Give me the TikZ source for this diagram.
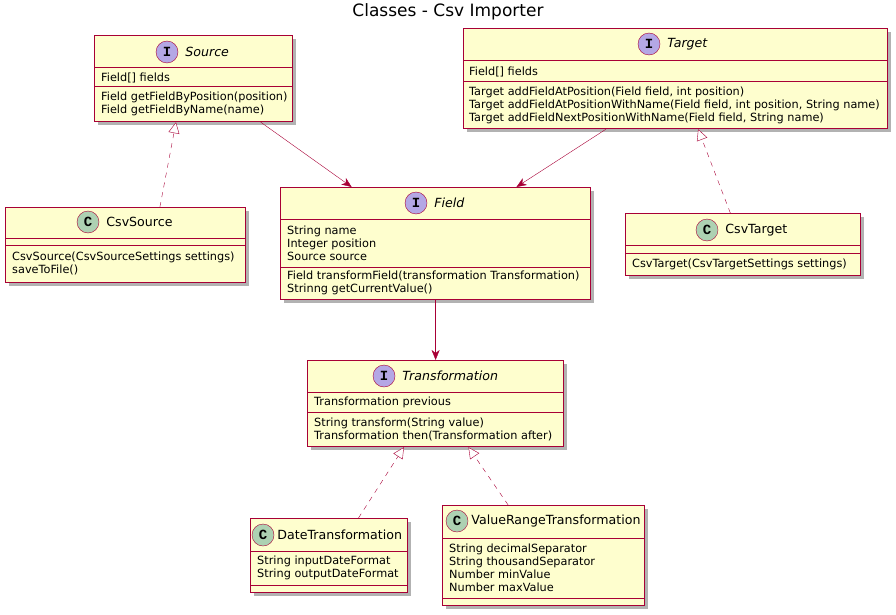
\documentclass[tikz,border=0pt]{standalone}
\usepackage{fontspec}
\setmainfont{DejaVu Sans}
\newfontfamily\badgefont{Liberation Mono}
\usetikzlibrary{arrows.meta,positioning,shadows}
\definecolor{umlfill}{HTML}{FEFECE}
\definecolor{umlred}{HTML}{A80036}
\definecolor{ifill}{HTML}{B4A7E5}
\definecolor{cfill}{HTML}{ADD1B2}
\tikzset{
  classbox/.style={draw=umlred, line width=1.2pt, fill=umlfill, anchor=north west, inner sep=0pt,
    drop shadow={shadow xshift=3pt, shadow yshift=-3pt, fill=black, opacity=0.3}},
  sepline/.style={draw=umlred, line width=1pt},
  ibadge/.style={circle, draw=umlred, fill=ifill, minimum size=22pt, inner sep=0pt,
    font=\badgefont\bfseries\fontsize{14}{14}\selectfont},
  cbadge/.style={ibadge, fill=cfill},
  iname/.style={anchor=west, inner sep=0pt, font=\fontsize{12.6}{15}\selectfont\itshape},
  cname/.style={anchor=west, inner sep=0pt, font=\fontsize{12.6}{15}\selectfont},
  members/.style={anchor=west, inner sep=0pt, align=left, font=\fontsize{11.3}{13}\selectfont},
  assoc/.style={draw=umlred, -{Stealth[length=10pt, width=8pt, inset=3pt]}},
  realize/.style={draw=umlred, dash pattern=on 5pt off 5pt,
    -{Triangle[open, length=11pt, width=11pt, fill=white]}}
}
\begin{document}
\begin{tikzpicture}[x=1pt, y=-1pt]
\useasboundingbox (0,0) rectangle (896,615);
\node[font=\fontsize{17}{19}\selectfont] (title) at (448,12) {Classes - Csv Importer};

% Source
\node[classbox, minimum width=198pt, minimum height=86pt] (source) at (94,35) {};
\draw[sepline] (94,68) -- (292,68);
\draw[sepline] (94,87) -- (292,87);
\node[ibadge] (sourcebadge) at (167,52) {I};
\node[iname, right=7pt of sourcebadge] (sourcename) {Source};
\node[members] (sourcefields) at (101,77.5) {Field[] fields};
\node[members] (sourcemethods) at (101,104) {Field getFieldByPosition(position)\\Field getFieldByName(name)};

% CsvSource
\node[classbox, minimum width=240pt, minimum height=75pt] (csvsource) at (5,207) {};
\draw[sepline] (5,238) -- (245,238);
\draw[sepline] (5,245) -- (245,245);
\node[cbadge] (csvsourcebadge) at (88,222) {C};
\node[cname, right=7pt of csvsourcebadge] (csvsourcename) {CsvSource};
\node[members] (csvsourcemethods) at (12,263.5) {CsvSource(CsvSourceSettings settings)\\saveToFile()};

% Field
\node[classbox, minimum width=310pt, minimum height=112pt] (field) at (280,187) {};
\draw[sepline] (280,219) -- (590,219);
\draw[sepline] (280,267) -- (590,267);
\node[ibadge] (fieldbadge) at (416,203) {I};
\node[iname, right=7pt of fieldbadge] (fieldname) {Field};
\node[members] (fieldfields) at (287,243) {String name\\Integer position\\Source source};
\node[members] (fieldmethods) at (287,283) {Field transformField(transformation Transformation)\\Strinng getCurrentValue()};

% Target
\node[classbox, minimum width=424pt, minimum height=100pt] (target) at (463,28) {};
\draw[sepline] (463,61) -- (887,61);
\draw[sepline] (463,82) -- (887,82);
\node[ibadge] (targetbadge) at (649,44) {I};
\node[iname, right=7pt of targetbadge] (targetname) {Target};
\node[members] (targetfields) at (469,71.5) {Field[] fields};
\node[members] (targetmethods) at (469,105) {Target addFieldAtPosition(Field field, int position)\\Target addFieldAtPositionWithName(Field field, int position, String name)\\Target addFieldNextPositionWithName(Field field, String name)};

% CsvTarget
\node[classbox, minimum width=235pt, minimum height=62pt] (csvtarget) at (625,213) {};
\draw[sepline] (625,245) -- (860,245);
\draw[sepline] (625,253) -- (860,253);
\node[cbadge] (csvtargetbadge) at (707,230) {C};
\node[cname, right=7pt of csvtargetbadge] (csvtargetname) {CsvTarget};
\node[members] (csvtargetmethods) at (632,264) {CsvTarget(CsvTargetSettings settings)};

% Transformation
\node[classbox, minimum width=256pt, minimum height=86pt] (transformation) at (307,360) {};
\draw[sepline] (307,392) -- (563,392);
\draw[sepline] (307,412) -- (563,412);
\node[ibadge] (transformationbadge) at (384,376) {I};
\node[iname, right=7pt of transformationbadge] (transformationname) {Transformation};
\node[members] (transformationfields) at (314,402) {Transformation previous};
\node[members] (transformationmethods) at (314,429) {String transform(String value)\\Transformation then(Transformation after)};

% DateTransformation
\node[classbox, minimum width=157pt, minimum height=74pt] (datetransformation) at (250,518) {};
\draw[sepline] (250,551) -- (407,551);
\draw[sepline] (250,585) -- (407,585);
\node[cbadge] (datebadge) at (263,535) {C};
\node[cname, right=3pt of datebadge] (datename) {DateTransformation};
\node[members] (datefields) at (257,568) {String inputDateFormat\\String outputDateFormat};

% ValueRangeTransformation
\node[classbox, minimum width=202pt, minimum height=100pt] (valuerange) at (442,505) {};
\draw[sepline] (442,538) -- (644,538);
\draw[sepline] (442,598) -- (644,598);
\node[cbadge] (valuerangebadge) at (457,521) {C};
\node[cname, right=3pt of valuerangebadge] (valuerangename) {ValueRangeTransformation};
\node[members] (valuerangefields) at (449,568) {String decimalSeparator\\String thousandSeparator\\Number minValue\\Number maxValue};

% connectors
\draw[assoc] (source.-33.5) -- (field.146);
\draw[assoc] (target.-144.5) -- (field.35);
\draw[assoc] (field) -- (transformation);
\draw[realize] (csvsource.48.7) -- (source.-112.7);
\draw[realize] (csvtarget.112) -- (target.-66.25);
\draw[realize] (datetransformation.52.4) -- (transformation.-126.7);
\draw[realize] (valuerange.125.8) -- (transformation.-53.3);
\end{tikzpicture}
\end{document}
